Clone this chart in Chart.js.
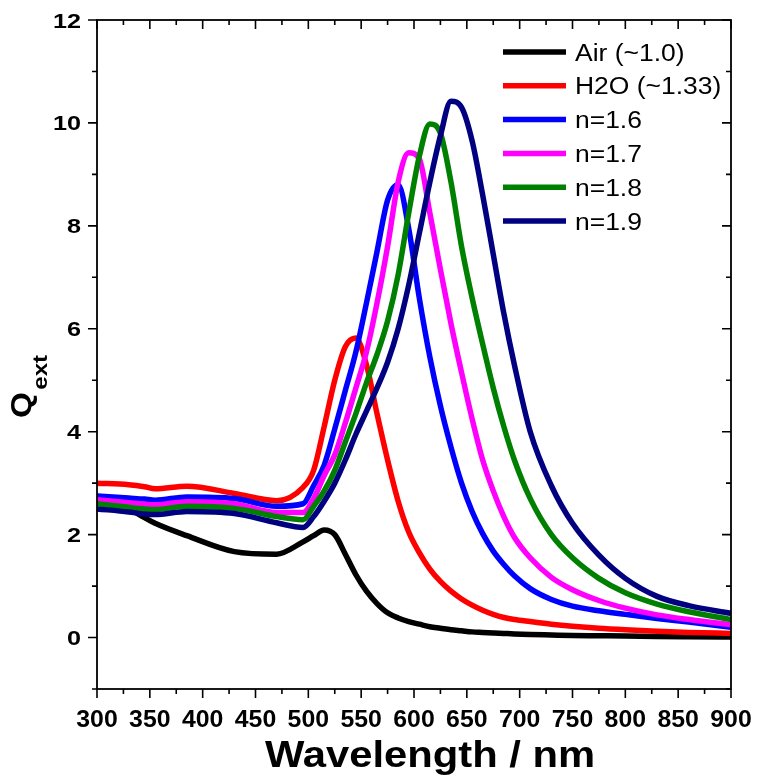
<!DOCTYPE html>
<html>
<head>
<meta charset="utf-8">
<script src="https://cdn.jsdelivr.net/npm/chart.js@4/dist/chart.umd.min.js"></script>
<style>html,body{margin:0;padding:0;background:#fff;}canvas{display:block;}</style>
</head>
<body>
<canvas id="c" width="757" height="781"></canvas>
<script>
// ---- data ----
const wavelength = [300,330,345,355,385,430,470,495,505,515,525,535,545,555,565,575,585,595,605,615,625,635,645,655,665,675,685,695,710,730,750,775,800,830,860,900];
const air  = [2.75,2.5,2.33,2.22,1.98,1.67,1.62,1.86,1.98,2.09,2.0,1.62,1.22,0.9,0.66,0.48,0.38,0.31,0.26,0.21,0.18,0.15,0.13,0.11,0.1,0.09,0.08,0.07,0.06,0.05,0.04,0.035,0.03,0.02,0.015,0.01];
const h2o  = [3.0,2.97,2.93,2.89,2.94,2.8,2.66,2.92,3.25,4.1,5.0,5.65,5.82,5.3,4.35,3.45,2.65,2.05,1.65,1.33,1.09,0.9,0.75,0.63,0.53,0.45,0.39,0.35,0.31,0.26,0.22,0.18,0.15,0.12,0.1,0.08];
const n16  = [2.75,2.71,2.69,2.67,2.73,2.7,2.55,2.6,2.95,3.35,4.05,4.8,5.55,6.5,7.5,8.5,8.8,7.95,6.6,5.45,4.5,3.7,3.0,2.45,2.02,1.68,1.42,1.2,0.95,0.74,0.61,0.52,0.45,0.37,0.3,0.2];
const n17  = [2.68,2.62,2.59,2.58,2.64,2.6,2.43,2.43,2.7,3.15,3.55,4.17,4.85,5.55,6.5,7.6,8.85,9.42,9.3,8.25,7.15,6.1,5.15,4.25,3.45,2.85,2.35,1.95,1.55,1.17,0.93,0.72,0.57,0.44,0.35,0.25];
const n18  = [2.6,2.53,2.5,2.49,2.55,2.51,2.35,2.29,2.55,2.85,3.25,3.8,4.35,4.95,5.5,6.15,7.05,8.25,9.35,9.98,9.8,8.85,7.6,6.6,5.7,4.85,4.1,3.45,2.7,2.0,1.55,1.15,0.87,0.65,0.5,0.35];
const n19  = [2.5,2.44,2.4,2.39,2.45,2.41,2.23,2.14,2.35,2.65,3.0,3.45,3.95,4.4,4.85,5.35,6.0,6.85,7.85,8.85,9.75,10.42,10.3,9.65,8.6,7.45,6.3,5.3,4.0,2.95,2.22,1.6,1.15,0.8,0.62,0.47];

const seriesNames  = ['Air (~1.0)','H2O (~1.33)','n=1.6','n=1.7','n=1.8','n=1.9'];
const seriesValues = [air,h2o,n16,n17,n18,n19];
const seriesColors = ['#000000','#ff0000','#0000ff','#ff00ff','#008000','#000080'];

const xMajorTicks = [300,350,400,450,500,550,600,650,700,750,800,850,900];
const xMinorTicks = [325,375,425,475,525,575,625,675,725,775,825,875];
const yMajorTicks = [0,2,4,6,8,10,12];
const yMinorTicks = [-1,1,3,5,7,9,11];
const xTitle = 'Wavelength / nm';
const yTitleMain = 'Q', yTitleSub = 'ext';

const FONT = '"Liberation Sans", Arial, Helvetica, sans-serif';

function stretchedText(ctx, str, x, y, font, align, sx) {
  ctx.save();
  ctx.font = font;
  const w = ctx.measureText(str).width * sx;
  const x0 = align === 'center' ? x - w / 2 : (align === 'right' ? x - w : x);
  ctx.translate(x0, y);
  ctx.scale(sx, 1);
  ctx.textAlign = 'left';
  ctx.textBaseline = 'alphabetic';
  ctx.fillText(str, 0, 0);
  ctx.restore();
}

const framePlugin = {
  id: 'frame',
  afterDraw(chart) {
    const ctx = chart.ctx;
    const a = chart.chartArea;
    const xs = chart.scales.x, ys = chart.scales.y;
    ctx.save();
    ctx.strokeStyle = '#000';
    ctx.fillStyle = '#000';
    ctx.lineWidth = 1.8;
    ctx.strokeRect(a.left, a.top, a.right - a.left, a.bottom - a.top);
    ctx.lineWidth = 1.6;
    ctx.beginPath();
    const MAJ = 9, MIN = 5;
    xMajorTicks.forEach(v => { const p = xs.getPixelForValue(v);
      ctx.moveTo(p, a.bottom); ctx.lineTo(p, a.bottom + MAJ);
      ctx.moveTo(p, a.top); ctx.lineTo(p, a.top + MAJ); });
    xMinorTicks.forEach(v => { const p = xs.getPixelForValue(v);
      ctx.moveTo(p, a.bottom); ctx.lineTo(p, a.bottom + MIN);
      ctx.moveTo(p, a.top); ctx.lineTo(p, a.top + MIN); });
    yMajorTicks.forEach(v => { const p = ys.getPixelForValue(v);
      ctx.moveTo(a.left, p); ctx.lineTo(a.left - MAJ, p);
      ctx.moveTo(a.right, p); ctx.lineTo(a.right - MAJ, p); });
    yMinorTicks.forEach(v => { const p = ys.getPixelForValue(v);
      ctx.moveTo(a.left, p); ctx.lineTo(a.left - MIN, p);
      ctx.moveTo(a.right, p); ctx.lineTo(a.right - MIN, p); });
    ctx.stroke();

    // tick labels
    xMajorTicks.forEach(v => stretchedText(ctx, String(v), xs.getPixelForValue(v), a.bottom + 38, 'bold 23px ' + FONT, 'center', 1.08));
    yMajorTicks.forEach(v => stretchedText(ctx, String(v), a.left - 16, ys.getPixelForValue(v) + 7.5, 'bold 21px ' + FONT, 'right', 1.2));

    // x title
    stretchedText(ctx, xTitle, 430, 767, 'bold 36px ' + FONT, 'center', 1.16);

    // y title (rotated, with subscript)
    ctx.save();
    ctx.translate(31, 418);
    ctx.rotate(-Math.PI / 2);
    ctx.scale(1.15, 1);
    ctx.font = 'bold 29px ' + FONT;
    ctx.textBaseline = 'alphabetic';
    ctx.fillText(yTitleMain, 0, 0);
    const qw = ctx.measureText(yTitleMain).width;
    ctx.font = 'bold 21px ' + FONT;
    ctx.fillText(yTitleSub, qw + 2, 16);
    ctx.restore();

    // legend
    seriesNames.forEach((name, i) => {
      const yc = 52 + i * 33.8;
      ctx.strokeStyle = seriesColors[i];
      ctx.lineWidth = 5.5;
      ctx.beginPath();
      ctx.moveTo(503, yc); ctx.lineTo(566, yc);
      ctx.stroke();
      ctx.fillStyle = '#000';
      stretchedText(ctx, name, 575, yc + 8.5, '23px ' + FONT, 'left', 1.15);
    });
    ctx.restore();
  }
};

new Chart(document.getElementById('c'), {
  type: 'line',
  data: {
    datasets: seriesNames.map((name, i) => ({
      label: name,
      data: wavelength.map((w, k) => ({ x: w, y: seriesValues[i][k] })),
      borderColor: seriesColors[i],
      backgroundColor: seriesColors[i],
      borderWidth: 5.5,
      pointRadius: 0,
      fill: false,
      cubicInterpolationMode: 'monotone',
      order: seriesNames.length - i
    }))
  },
  options: {
    responsive: false,
    animation: false,
    devicePixelRatio: 1,
    layout: { padding: { left: 97, right: 26, top: 20, bottom: 92 } },
    scales: {
      x: { type: 'linear', min: 300, max: 900, display: false },
      y: { type: 'linear', min: -1, max: 12, display: false }
    },
    plugins: { legend: { display: false }, tooltip: { enabled: false } }
  },
  plugins: [framePlugin]
});
</script>
</body>
</html>
